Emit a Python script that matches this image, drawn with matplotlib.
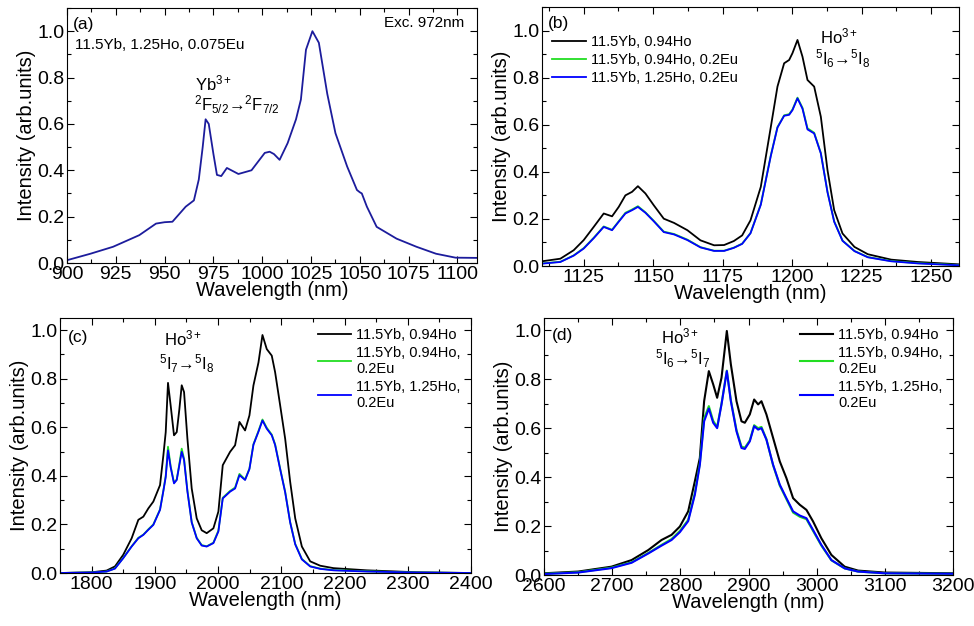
import matplotlib
matplotlib.use("Agg")
import matplotlib.pyplot as plt
from matplotlib.ticker import MultipleLocator

plt.rcParams["font.family"] = ["Liberation Sans", "DejaVu Sans"]
plt.rcParams["mathtext.fontset"] = "custom"
plt.rcParams["mathtext.rm"] = "Liberation Sans"
plt.rcParams["mathtext.it"] = "Liberation Sans"

# --- (a) Yb emission, single sample ---
a_wl = [900, 912, 923.6, 937, 945.6, 950, 954, 960.8, 965, 967.5, 969.5, 971, 972.6, 975,
        976.8, 979, 981.9, 987.8, 994.5, 1001.3, 1003.8, 1006, 1008.9, 1013, 1017.3, 1019.8,
        1022.4, 1025.7, 1029, 1033.3, 1037.5, 1043.5, 1048.5, 1050, 1051, 1053.6, 1058.6,
        1068.8, 1079, 1089, 1099, 1110]
a_int = [0.012, 0.04, 0.07, 0.12, 0.17, 0.176, 0.178, 0.243, 0.27, 0.36, 0.5, 0.62, 0.60, 0.47,
         0.38, 0.375, 0.41, 0.384, 0.40, 0.475, 0.48, 0.47, 0.445, 0.517, 0.62, 0.705,
         0.92, 1.0, 0.95, 0.73, 0.56, 0.416, 0.315, 0.305, 0.30, 0.243, 0.156,
         0.105, 0.07, 0.04, 0.023, 0.022]

# --- (b) Ho 5I6 -> 5I8 ---
b_wl = [1110, 1116.6, 1121.4, 1125, 1128.6, 1132.2, 1135.2, 1137.6, 1140, 1142.4, 1144.5,
        1147.2, 1150.2, 1153.8, 1157.5, 1162.3, 1167, 1171.9, 1175.5, 1179, 1182, 1185,
        1188.7, 1192.3, 1194.7, 1197.1, 1198.9, 1200.1, 1201.9, 1203.7, 1205.5, 1207.9,
        1210.3, 1212.7, 1215.1, 1218.1, 1222.4, 1227.2, 1235.6, 1245.2, 1260]
b_black = [0.02, 0.031, 0.067, 0.11, 0.166, 0.223, 0.211, 0.251, 0.30, 0.315, 0.339,
           0.308, 0.258, 0.201, 0.183, 0.152, 0.109, 0.088, 0.089, 0.106, 0.13, 0.194,
           0.336, 0.59, 0.762, 0.861, 0.875, 0.904, 0.96, 0.889, 0.79, 0.762,
           0.634, 0.407, 0.237, 0.138, 0.081, 0.05, 0.027, 0.017, 0.007]
b_green = [0.011, 0.018, 0.045, 0.076, 0.12, 0.168, 0.154, 0.19, 0.226, 0.24, 0.254,
           0.228, 0.192, 0.146, 0.136, 0.112, 0.08, 0.065, 0.065, 0.078, 0.095, 0.14,
           0.262, 0.47, 0.59, 0.64, 0.645, 0.665, 0.715, 0.672, 0.585, 0.566,
           0.48, 0.315, 0.19, 0.108, 0.064, 0.038, 0.021, 0.012, 0.004]
b_blue = [0.01, 0.017, 0.044, 0.074, 0.118, 0.166, 0.152, 0.188, 0.223, 0.237, 0.251,
          0.226, 0.19, 0.144, 0.134, 0.11, 0.079, 0.064, 0.064, 0.077, 0.094, 0.139,
          0.26, 0.467, 0.588, 0.638, 0.642, 0.662, 0.712, 0.668, 0.58, 0.563,
          0.478, 0.313, 0.188, 0.107, 0.063, 0.037, 0.02, 0.011, 0.003]

# --- (c) Ho 5I7 -> 5I8 ---
c_wl = [1750, 1800, 1823.7, 1836.9, 1850, 1863.3, 1873.9, 1881.8, 1889.7, 1897.6, 1908.2,
        1913.5, 1917.2, 1920.8, 1925, 1930.3, 1934.6, 1938.8, 1942.5, 1946.2, 1951.5,
        1958.3, 1966.2, 1974.1, 1982, 1992.6, 2000.5, 2007.4, 2019, 2026.9, 2033.8,
        2042.7, 2049.6, 2055.9, 2063.9, 2070.2, 2077, 2084.9, 2090.2, 2098.2, 2106.1,
        2114, 2122, 2132.5, 2145.7, 2161.5, 2182.6, 2235.4, 2314.5, 2400]
c_black = [0.0, 0.003, 0.01, 0.027, 0.075, 0.143, 0.219, 0.232, 0.266, 0.294, 0.362,
           0.485, 0.58, 0.783, 0.69, 0.567, 0.58, 0.675, 0.773, 0.745, 0.553,
           0.348, 0.225, 0.176, 0.164, 0.184, 0.253, 0.444, 0.499, 0.526, 0.622,
           0.587, 0.649, 0.772, 0.867, 0.98, 0.922, 0.895, 0.827, 0.69, 0.553,
           0.376, 0.225, 0.109, 0.048, 0.03, 0.02, 0.011, 0.003, 0.0]
c_green = [0.0, 0.002, 0.006, 0.019, 0.062, 0.11, 0.145, 0.158, 0.18, 0.2, 0.262,
           0.34, 0.40, 0.52, 0.44, 0.372, 0.385, 0.45, 0.512, 0.47, 0.34,
           0.21, 0.145, 0.115, 0.11, 0.125, 0.175, 0.31, 0.338, 0.352, 0.408,
           0.385, 0.43, 0.53, 0.585, 0.632, 0.598, 0.57, 0.53, 0.43, 0.335,
           0.21, 0.12, 0.058, 0.028, 0.018, 0.012, 0.007, 0.002, 0.0]
c_blue = [0.0, 0.002, 0.006, 0.018, 0.061, 0.109, 0.143, 0.157, 0.178, 0.198, 0.26,
          0.338, 0.395, 0.505, 0.435, 0.369, 0.383, 0.445, 0.499, 0.465, 0.336,
          0.208, 0.143, 0.113, 0.109, 0.123, 0.171, 0.307, 0.335, 0.348, 0.403,
          0.383, 0.428, 0.528, 0.582, 0.628, 0.594, 0.567, 0.527, 0.427, 0.332,
          0.208, 0.118, 0.056, 0.027, 0.017, 0.011, 0.006, 0.002, 0.0]

# --- (d) Ho 5I6 -> 5I7 ---
d_wl = [2600, 2650, 2699, 2728.5, 2753, 2772.4, 2787.1, 2799.3, 2811.5, 2821.3, 2828.6,
        2834.9, 2841.8, 2848.2, 2854, 2860.4, 2868.2, 2874.1, 2882.4, 2889.7, 2894.6,
        2901.9, 2908.3, 2914.1, 2919, 2926.3, 2936.1, 2945.9, 2955.6, 2965.4, 2975.2,
        2985, 2994.7, 3006.9, 3021.6, 3041.1, 3060.7, 3099.7, 3200]
d_black = [0.007, 0.014, 0.034, 0.061, 0.102, 0.143, 0.164, 0.198, 0.26, 0.383, 0.478,
           0.71, 0.833, 0.779, 0.724, 0.806, 0.997, 0.861, 0.71, 0.628, 0.622,
           0.656, 0.717, 0.697, 0.71, 0.656, 0.56, 0.464, 0.396, 0.314, 0.287,
           0.266, 0.219, 0.15, 0.082, 0.034, 0.018, 0.01, 0.007]
d_green = [0.005, 0.011, 0.03, 0.052, 0.09, 0.123, 0.147, 0.18, 0.225, 0.335, 0.455,
           0.64, 0.69, 0.63, 0.605, 0.70, 0.835, 0.715, 0.592, 0.525, 0.52,
           0.55, 0.612, 0.6, 0.605, 0.555, 0.448, 0.365, 0.31, 0.255, 0.238,
           0.228, 0.18, 0.12, 0.06, 0.027, 0.014, 0.007, 0.005]
d_blue = [0.004, 0.01, 0.028, 0.05, 0.088, 0.12, 0.143, 0.175, 0.22, 0.328, 0.45,
          0.628, 0.68, 0.622, 0.60, 0.697, 0.833, 0.71, 0.587, 0.519, 0.515,
          0.546, 0.608, 0.594, 0.60, 0.553, 0.45, 0.369, 0.314, 0.26, 0.243,
          0.232, 0.184, 0.123, 0.061, 0.027, 0.014, 0.007, 0.005]

labels_short = ["11.5Yb, 0.94Ho", "11.5Yb, 0.94Ho, 0.2Eu", "11.5Yb, 1.25Ho, 0.2Eu"]
labels_wrap = ["11.5Yb, 0.94Ho", "11.5Yb, 0.94Ho,\n0.2Eu", "11.5Yb, 1.25Ho,\n0.2Eu"]
colors = ["black", "#22dd22", "#0000ff"]

W, H = 974, 626
fig = plt.figure(figsize=(W / 100, H / 100), dpi=100)


def px_axes(l, t, r, b):
    return fig.add_axes([l / W, 1 - b / H, (r - l) / W, (b - t) / H])


def style(ax, xlim, ylim, xmaj, xmin):
    ax.set_xlim(*xlim)
    ax.set_ylim(*ylim)
    ax.xaxis.set_major_locator(MultipleLocator(xmaj))
    ax.xaxis.set_minor_locator(MultipleLocator(xmin))
    ax.yaxis.set_major_locator(MultipleLocator(0.2))
    ax.yaxis.set_minor_locator(MultipleLocator(0.1))
    ax.tick_params(which="both", direction="in", top=True, right=True)
    ax.tick_params(which="major", length=5, width=0.8, labelsize=14, pad=2)
    ax.tick_params(which="minor", length=3, width=0.8)
    ax.set_xlabel("Wavelength (nm)", fontsize=14.5, labelpad=-1)
    ax.set_ylabel("Intensity (arb.units)", fontsize=14.5, labelpad=1)
    for s in ax.spines.values():
        s.set_linewidth(0.8)


def add_legend(ax, labels_loc, anchor):
    ax.legend(loc=labels_loc, bbox_to_anchor=anchor, frameon=False, fontsize=10.5,
              handlelength=2.3, handletextpad=0.35, labelspacing=0.25, borderaxespad=0.3)


axa = px_axes(67, 8, 477, 263)
axb = px_axes(542, 7, 959, 266)
axc = px_axes(60, 318, 471, 573)
axd = px_axes(544, 318, 953, 575)

arrow = "\u2192"

# (a)
axa.plot(a_wl, a_int, color="#1c1c9c", lw=1.3)
style(axa, (900, 1110), (0, 1.1), 25, 12.5)
axa.text(0.015, 0.935, "(a)", transform=axa.transAxes, fontsize=12.5, va="center")
axa.text(0.02, 0.855, "11.5Yb, 1.25Ho, 0.075Eu", transform=axa.transAxes, fontsize=11, va="center")
axa.text(0.97, 0.94, "Exc. 972nm", transform=axa.transAxes, fontsize=11, va="center", ha="right")
axa.text(975, 0.775, "Yb$^{3+}$", fontsize=12, ha="center", va="center")
axa.text(987, 0.685, "$^{2}$F$_{5/2}$" + arrow + "$^{2}$F$_{7/2}$", fontsize=12,
         ha="center", va="center")

# (b)
for y, c, lab in zip([b_black, b_green, b_blue], colors, labels_short):
    axb.plot(b_wl, y, color=c, lw=1.3, label=lab)
style(axb, (1110, 1260), (0, 1.1), 25, 12.5)
axb.text(0.015, 0.935, "(b)", transform=axb.transAxes, fontsize=12.5, va="center")
add_legend(axb, "upper left", (0.0, 0.93))
axb.text(1217, 0.975, "Ho$^{3+}$", fontsize=12, ha="center", va="center")
axb.text(1218, 0.88, "$^{5}$I$_{6}$" + arrow + "$^{5}$I$_{8}$", fontsize=12,
         ha="center", va="center")

# (c)
for y, c, lab in zip([c_black, c_green, c_blue], colors, labels_wrap):
    axc.plot(c_wl, y, color=c, lw=1.3, label=lab)
style(axc, (1750, 2400), (0, 1.05), 100, 50)
axc.text(0.02, 0.925, "(c)", transform=axc.transAxes, fontsize=12.5, va="center")
add_legend(axc, "upper right", (1.0, 1.0))
axc.text(1944, 0.965, "Ho$^{3+}$", fontsize=12, ha="center", va="center")
axc.text(1950, 0.86, "$^{5}$I$_{7}$" + arrow + "$^{5}$I$_{8}$", fontsize=12,
         ha="center", va="center")

# (d)
for y, c, lab in zip([d_black, d_green, d_blue], colors, labels_wrap):
    axd.plot(d_wl, y, color=c, lw=1.5, label=lab)
style(axd, (2600, 3200), (0, 1.05), 100, 50)
axd.text(0.02, 0.93, "(d)", transform=axd.transAxes, fontsize=12.5, va="center")
add_legend(axd, "upper right", (1.0, 1.0))
axd.text(2800, 0.975, "Ho$^{3+}$", fontsize=12, ha="center", va="center")
axd.text(2804, 0.882, "$^{5}$I$_{6}$" + arrow + "$^{5}$I$_{7}$", fontsize=12,
         ha="center", va="center")

fig.savefig("out.png", dpi=100)
